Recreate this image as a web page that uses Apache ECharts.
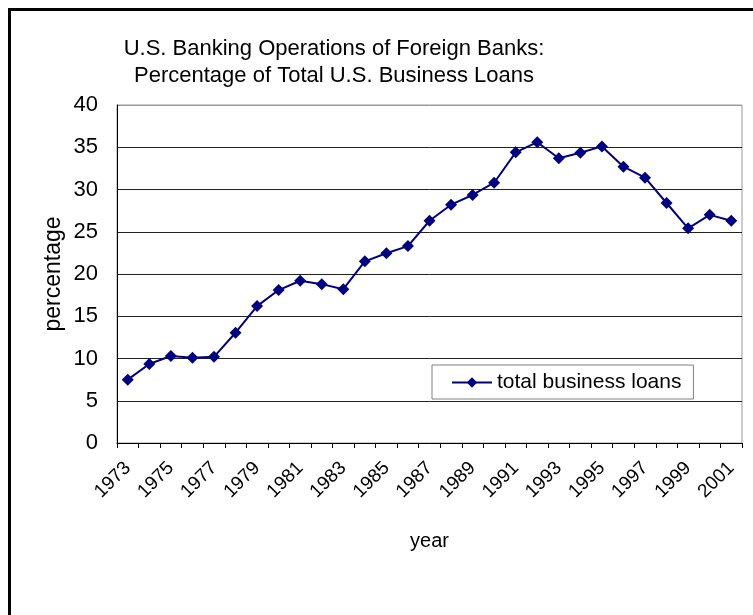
<!DOCTYPE html>
<html>
<head>
<meta charset="utf-8">
<script src="https://cdn.jsdelivr.net/npm/echarts@6/dist/echarts.min.js"></script>
<style>
  html, body { margin: 0; padding: 0; background: #fff; }
  #main { position: absolute; left: 0; top: 0; width: 753px; height: 615px; }
  #frame { position: absolute; left: 8px; top: 8px; width: 760px; height: 620px;
           border-left: 3px solid #000; border-top: 3px solid #000; pointer-events: none; }
</style>
</head>
<body>
<div id="main"></div>
<div id="frame"></div>
<script>
  // years along the bottom
  var years = [];
  for (var y = 1973; y <= 2001; y++) years.push(String(y));
  // share of total U.S. business loans, percent
  var totalLoans = [7.5, 9.35, 10.3, 10.1, 10.2, 13.05, 16.2, 18.1, 19.2, 18.8,
                    18.2, 21.5, 22.45, 23.3, 26.3, 28.2, 29.35, 30.8, 34.4, 35.6,
                    33.7, 34.35, 35.1, 32.7, 31.4, 28.4, 25.4, 27.0, 26.3];
  var yTicks = [0, 5, 10, 15, 20, 25, 30, 35, 40];

  var font = "Liberation Sans, Arial, sans-serif";
  var chart = echarts.init(document.getElementById("main"), null, { renderer: "canvas" });

  var option = {
    animation: false,
    backgroundColor: "transparent",
    title: {
      text: "U.S. Banking Operations of Foreign Banks:\nPercentage of Total U.S. Business Loans",
      left: 329,
      top: 30,
      textAlign: "center",
      textStyle: { fontFamily: font, fontSize: 22, fontWeight: "normal", color: "#000", lineHeight: 27, align: "center" }
    },
    legend: {
      left: 432,
      top: 365,
      padding: [7, 12, 6, 19],
      borderColor: "#808080",
      borderWidth: 1,
      borderRadius: 0,
      backgroundColor: "#fff",
      itemWidth: 40,
      itemHeight: 13,
      itemGap: 5,
      textStyle: { fontFamily: font, fontSize: 21, color: "#000" },
      data: ["total business loans"]
    },
    grid: {
      left: 117,
      right: 11,
      top: 105,
      bottom: 172,
      show: true,
      borderColor: "#999",
      borderWidth: 1
    },
    xAxis: {
      type: "category",
      data: years,
      boundaryGap: true,
      name: "year",
      nameLocation: "middle",
      nameGap: 88,
      nameMoveOverlap: false,
      nameTextStyle: { fontFamily: font, fontSize: 20, color: "#000" },
      axisLine: { lineStyle: { color: "#000", width: 1 } },
      axisTick: { show: true, interval: 0, inside: false, length: 5, lineStyle: { color: "#000" } },
      axisLabel: { interval: 1, rotate: 45, margin: 22, fontFamily: font, fontSize: 19, color: "#000" },
      splitLine: { show: false }
    },
    yAxis: {
      type: "value",
      min: 0,
      max: 40,
      interval: 5,
      name: "percentage",
      nameLocation: "middle",
      nameGap: 52,
      nameMoveOverlap: false,
      nameRotate: 90,
      nameTextStyle: { fontFamily: font, fontSize: 23, color: "#000" },
      axisLine: { show: true, lineStyle: { color: "#000", width: 1 } },
      axisTick: { show: false },
      axisLabel: { margin: 19, fontFamily: font, fontSize: 22, color: "#000" },
      splitLine: {
        show: true,
        lineStyle: {
          color: yTicks.map(function (t) { return t === 40 ? "#999" : "#222"; }),
          width: 1
        }
      }
    },
    series: [
      {
        name: "total business loans",
        type: "line",
        data: totalLoans,
        symbol: "diamond",
        symbolSize: 12,
        showAllSymbol: true,
        lineStyle: { color: "#000080", width: 2 },
        itemStyle: { color: "#000080" }
      }
    ]
  };

  chart.setOption(option);
</script>
</body>
</html>
